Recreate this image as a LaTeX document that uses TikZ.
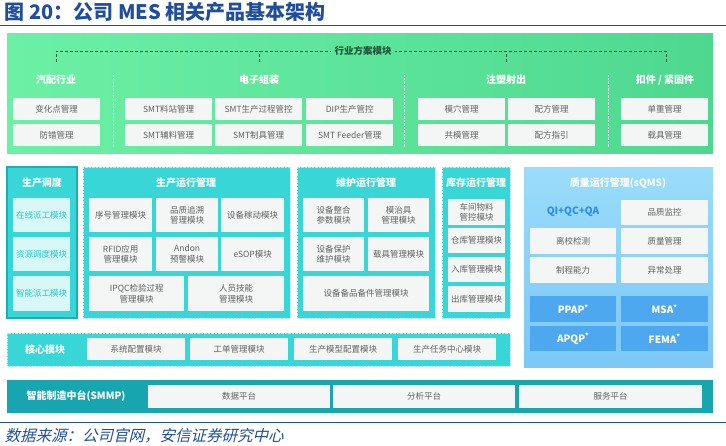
\documentclass[tikz,border=0pt]{standalone}
\usepackage{fontspec}
\setmainfont{Noto Sans CJK SC}
\newfontfamily\srcfont[FakeSlant=0.25]{Noto Sans CJK SC}
\usepackage{xcolor}
\usetikzlibrary{positioning, arrows.meta}

\definecolor{titleblue}{HTML}{1F4E9E}
\definecolor{leafgreen}{HTML}{4ED88F}
\definecolor{leaflight}{HTML}{6CF0A6}
\definecolor{tealpanel}{HTML}{38D6D6}
\definecolor{tealdark}{HTML}{1AAFB5}
\definecolor{smmpteal}{HTML}{17A6B0}
\definecolor{qmslight}{HTML}{9ADCFA}
\definecolor{qmsblue}{HTML}{7CC8F6}
\definecolor{qmsbox}{HTML}{4EA8F0}
\definecolor{qmstext}{HTML}{2A8CEB}
\definecolor{boxgray}{HTML}{F4F6F6}
\definecolor{textgray}{HTML}{606060}
\definecolor{schedbox}{HTML}{D8F7F7}
\definecolor{schedtext}{HTML}{22CACA}

\tikzset{
  modbox/.style={fill=boxgray, anchor=north west, align=center, inner sep=1pt,
    text=textgray, font=\fontsize{8.5}{10.5}\selectfont},
  schedmod/.style={modbox, fill=schedbox, text=schedtext},
  qmsmod/.style={modbox, fill=qmsbox, text=white, font=\bfseries\fontsize{10}{12}\selectfont},
  head/.style={text=white, font=\bfseries\fontsize{10}{12}\selectfont},
  panel/.style={fill=tealpanel, draw=white!60!tealpanel, densely dotted},
  guide/.style={densely dashed, draw=black!55!leafgreen},
  divider/.style={densely dotted, draw=white!70!leafgreen}
}

\begin{document}
\begin{tikzpicture}[x=1pt, y=-1pt]
    \useasboundingbox (0,0) rectangle (726,445);

    \node[anchor=west, text=titleblue, font=\bfseries\fontsize{20}{23}\selectfont] (title) at (1,12) {图 20：公司 MES 相关产品基本架构};
    \draw[titleblue, line width=0.9pt] (0,25) -- (726,25);

    \fill[left color=leaflight, right color=leafgreen] (7,33) rectangle (713,153);
    \node[text=black!60!leafgreen, font=\bfseries\fontsize{9.5}{11}\selectfont] (ind) at (363,51) {行业方案模块};
    \coordinate (t1) at (56,62);
    \coordinate (t2) at (259,62);
    \coordinate (t3) at (506,62);
    \coordinate (t4) at (666,62);
    \draw[guide] (t1) |- (ind.west);
    \draw[guide] (t4) |- (ind.east);
    \draw[guide] (t2) -- (t2 |- ind);
    \draw[guide] (t3) -- (t3 |- ind);

    \node[head] (auto) at (56,80)  {汽配行业};
    \node[head] (elec) at (259,80) {电子组装};
    \node[head] (mold) at (506,80) {注塑射出};
    \node[head] (fast) at (665,80) {扣件 / 紧固件};
    \draw[divider] (113,75) -- (113,147);
    \draw[divider] (404,75) -- (404,147);
    \draw[divider] (608,75) -- (608,147);

    \node[modbox, minimum width=87, minimum height=22] (a1) at (13,98)  {变化点管理};
    \node[modbox, minimum width=87, minimum height=22] (a2) at (13,124) {防错管理};
    \node[modbox, minimum width=87, minimum height=22] (e1) at (125,98)  {SMT料站管理};
    \node[modbox, minimum width=87, minimum height=22] (e2) at (125,124) {SMT辅料管理};
    \node[modbox, minimum width=87, minimum height=22] (e3) at (215,98)  {SMT生产过程管控};
    \node[modbox, minimum width=87, minimum height=22] (e4) at (215,124) {SMT制具管理};
    \node[modbox, minimum width=87, minimum height=22] (e5) at (306,98)  {DIP生产管控};
    \node[modbox, minimum width=87, minimum height=22] (e6) at (306,124) {SMT Feeder管理};
    \node[modbox, minimum width=87, minimum height=22] (m1) at (418,98)  {模穴管理};
    \node[modbox, minimum width=87, minimum height=22] (m2) at (418,124) {共模管理};
    \node[modbox, minimum width=87, minimum height=22] (m3) at (508,98)  {配方管理};
    \node[modbox, minimum width=87, minimum height=22] (m4) at (508,124) {配方指引};
    \node[modbox, minimum width=87, minimum height=22] (f1) at (621,98)  {单重管理};
    \node[modbox, minimum width=87, minimum height=22] (f2) at (621,124) {载具管理};

    \fill[tealpanel] (7,167) rectangle (77,318);
    \draw[tealdark, line width=1.5pt] (7,167) rectangle (77,318);
    \node[head] (sched) at (42,183) {生产调度};
    \node[schedmod, minimum width=57, minimum height=34] (s1) at (13,198) {在线派工模块};
    \node[schedmod, minimum width=57, minimum height=34] (s2) at (13,237) {资源调度模块};
    \node[schedmod, minimum width=57, minimum height=35] (s3) at (13,276) {智能派工模块};

    \path[panel] (83,167) rectangle (290,318);
    \node[head] (prod) at (186,183) {生产运行管理};
    \node[modbox, minimum width=63, minimum height=34] (p1) at (89,198)  {序号管理模块};
    \node[modbox, minimum width=62, minimum height=34] (p2) at (156,198) {品质追溯\\管理模块};
    \node[modbox, minimum width=63, minimum height=34] (p3) at (221,198) {设备稼动模块};
    \node[modbox, minimum width=63, minimum height=34] (p4) at (89,237)  {RFID应用\\管理模块};
    \node[modbox, minimum width=62, minimum height=34] (p5) at (156,237) {Andon\\预警模块};
    \node[modbox, minimum width=63, minimum height=34] (p6) at (221,237) {eSOP模块};
    \node[modbox, minimum width=95, minimum height=35] (p7) at (89,276)  {IPQC检验过程\\管理模块};
    \node[modbox, minimum width=96, minimum height=35] (p8) at (188,276) {人员技能\\管理模块};

    \path[panel] (297,167) rectangle (435,318);
    \node[head] (maint) at (366,183) {维护运行管理};
    \node[modbox, minimum width=61, minimum height=34] (w1) at (303,198) {设备整合\\参数模块};
    \node[modbox, minimum width=61, minimum height=34] (w2) at (368,198) {模治具\\管理模块};
    \node[modbox, minimum width=61, minimum height=34] (w3) at (303,237) {设备保护\\维护模块};
    \node[modbox, minimum width=61, minimum height=34] (w4) at (368,237) {载具管理模块};
    \node[modbox, minimum width=126, minimum height=35] (w5) at (303,276) {设备备品备件管理模块};

    \path[panel] (442,167) rectangle (510,318);
    \node[head] (inv) at (476,183) {库存运行管理};
    \node[modbox, minimum width=57, minimum height=26] (k1) at (448,199) {车间物料\\管控模块};
    \node[modbox, minimum width=57, minimum height=25] (k2) at (448,228) {仓库管理模块};
    \node[modbox, minimum width=57, minimum height=25] (k3) at (448,257) {入库管理模块};
    \node[modbox, minimum width=57, minimum height=26] (k4) at (448,286) {出库管理模块};

    \fill[top color=qmslight, bottom color=qmsblue] (524,167) rectangle (713,367);
    \node[head] (qms) at (618,183) {质量运行管理(sQMS)};
    \node[text=qmstext, font=\bfseries\fontsize{10}{12}\selectfont] (qiqc) at (573,212) {QI+QC+QA};
    \node[modbox, minimum width=87, minimum height=25] (q1) at (621,200) {品质监控};
    \node[modbox, minimum width=86, minimum height=26] (q2) at (530,228) {离校检测};
    \node[modbox, minimum width=87, minimum height=26] (q3) at (621,228) {质量管理};
    \node[modbox, minimum width=86, minimum height=26] (q4) at (530,257) {制程能力};
    \node[modbox, minimum width=87, minimum height=26] (q5) at (621,257) {异常处理};
    \node[qmsmod, minimum width=86, minimum height=26] (q6) at (530,296) {PPAP\textsuperscript{*}};
    \node[qmsmod, minimum width=87, minimum height=26] (q7) at (621,296) {MSA\textsuperscript{*}};
    \node[qmsmod, minimum width=86, minimum height=25] (q8) at (530,326) {APQP\textsuperscript{*}};
    \node[qmsmod, minimum width=87, minimum height=25] (q9) at (621,326) {FEMA\textsuperscript{*}};

    \path[panel] (7,333) rectangle (510,366);
    \node[head] (core) at (45,350) {核心模块};
    \node[modbox, minimum width=98, minimum height=22] (c1) at (87,338)  {系统配置模块};
    \node[modbox, minimum width=98, minimum height=22] (c2) at (190,338) {工单管理模块};
    \node[modbox, minimum width=98, minimum height=22] (c3) at (294,338) {生产模型配置模块};
    \node[modbox, minimum width=98, minimum height=22] (c4) at (398,338) {生产任务中心模块};

    \fill[smmpteal] (7,380) rectangle (713,413);
    \node[head] (smmp) at (76,396) {智能制造中台(SMMP)};
    \node[modbox, minimum width=182, minimum height=23] (d1) at (148,385) {数据平台};
    \node[modbox, minimum width=182, minimum height=23] (d2) at (333,385) {分析平台};
    \node[modbox, minimum width=183, minimum height=23] (d3) at (519,385) {服务平台};

    \draw[titleblue, line width=0.9pt] (0,422) -- (726,422);
    \node[anchor=west, text=titleblue, font=\srcfont\fontsize{15.5}{17}\selectfont] (src) at (1,436) {数据来源：公司官网，安信证券研究中心};
\end{tikzpicture}
\end{document}
